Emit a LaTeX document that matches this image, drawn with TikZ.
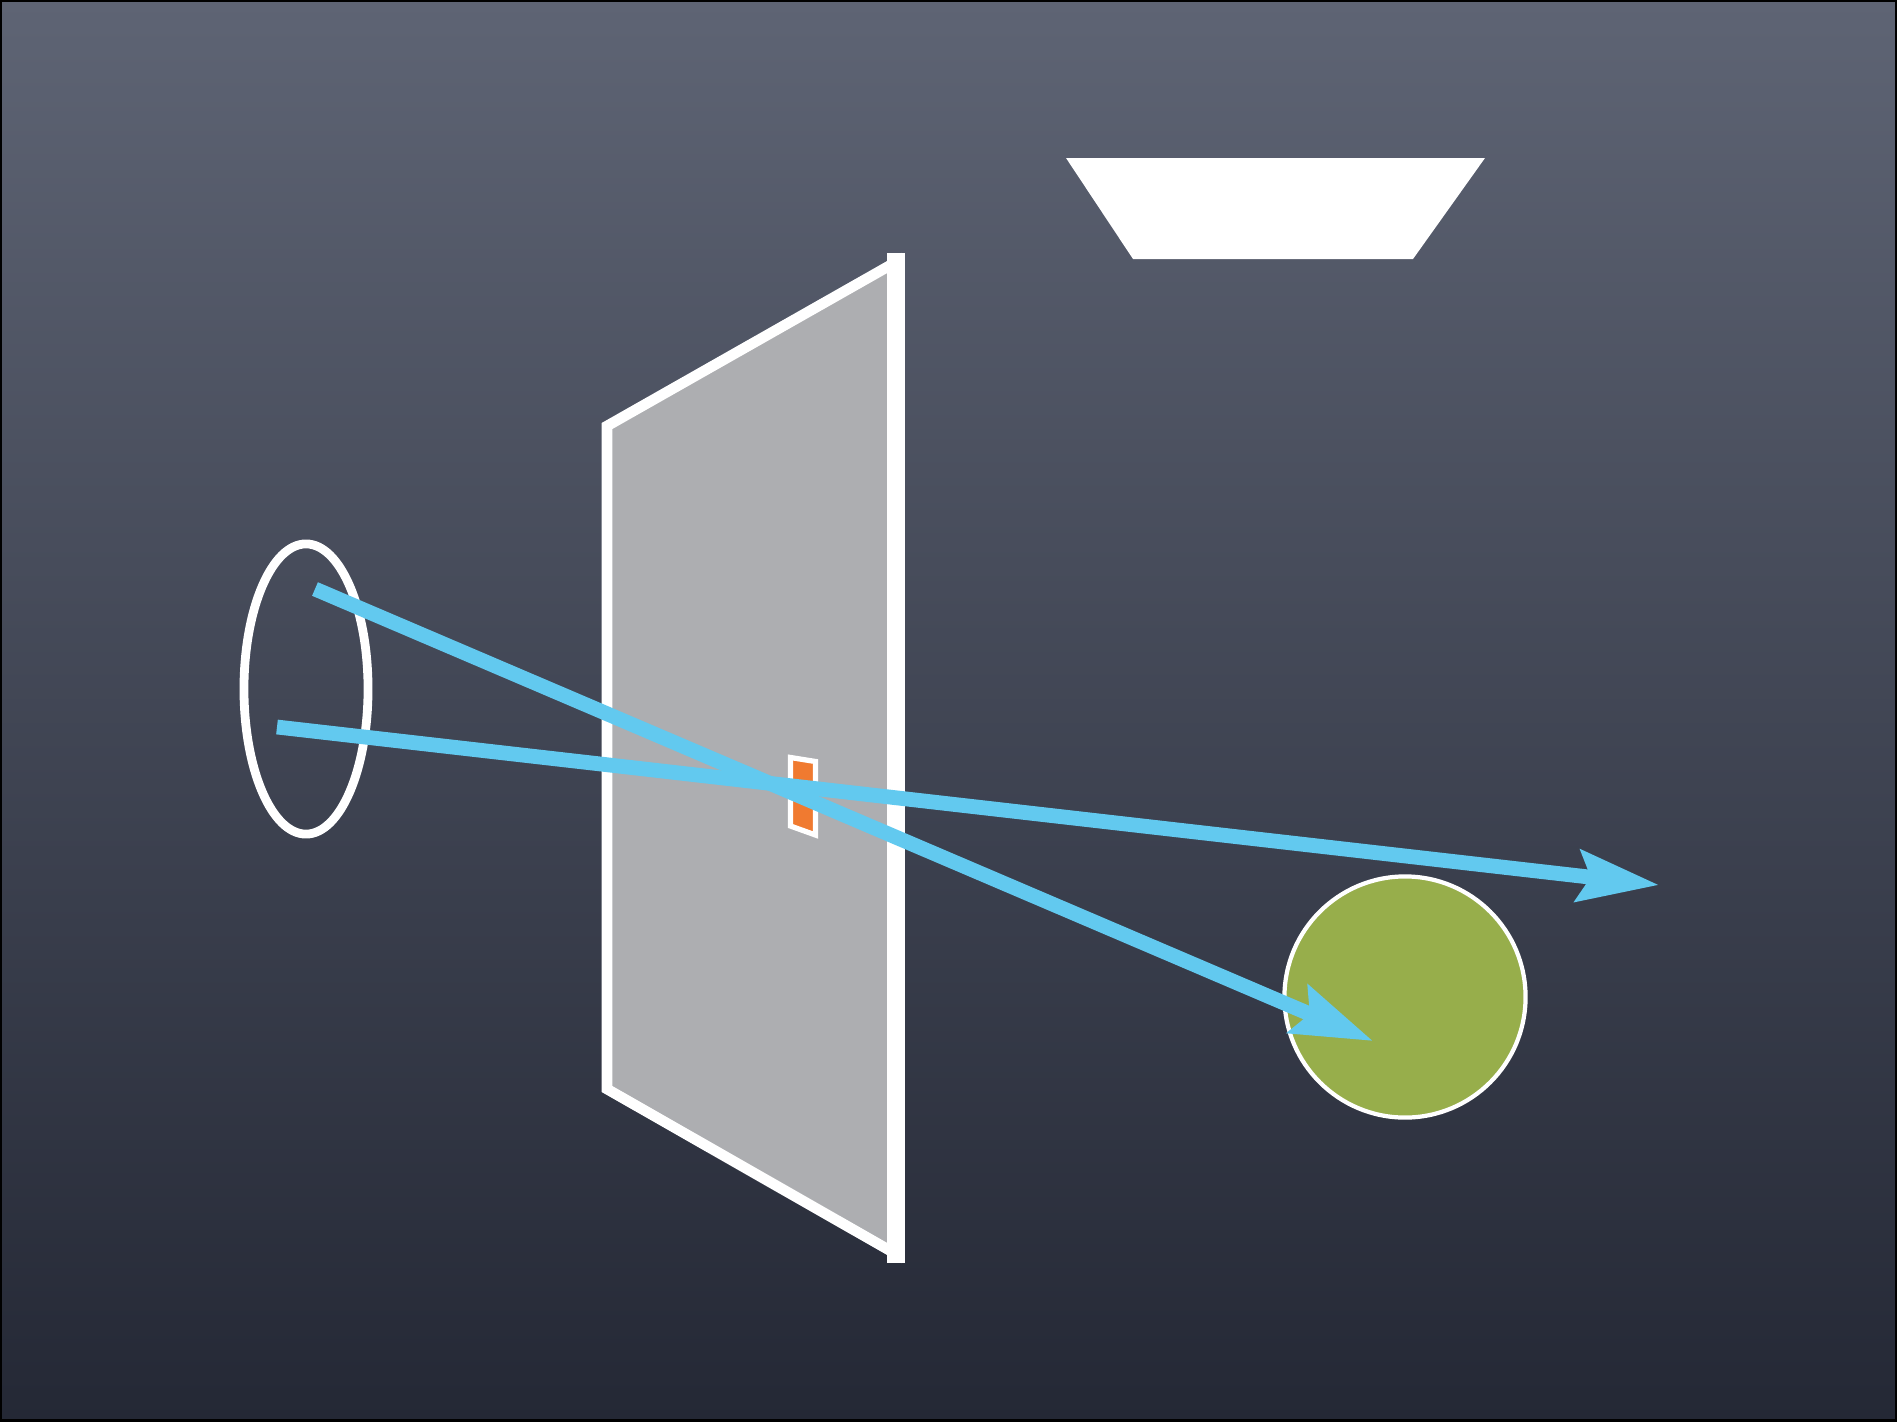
\documentclass[tikz,border=0pt]{standalone}
\usetikzlibrary{arrows.meta}
\definecolor{boardtop}{RGB}{94,100,116}
\definecolor{boardmid}{RGB}{72,78,93}
\definecolor{boardbot}{RGB}{36,40,53}
\definecolor{panelgray}{RGB}{173,174,177}
\definecolor{raycol}{RGB}{98,201,239}
\definecolor{leafgreen}{RGB}{151,174,75}
\definecolor{holeorange}{RGB}{240,122,48}

\begin{document}
\begin{tikzpicture}[x=0.01cm, y=-0.01cm,
    ray/.style={draw=raycol, line width=4.2pt, -{Stealth[length=23pt, width=14.5pt, inset=3.5pt]}},
    rim/.style={draw=white, line width=3pt}]
    \useasboundingbox (0,0) rectangle (1897,1421);
    \shade[top color=boardtop, middle color=boardmid, bottom color=boardbot] (0,0) rectangle (1897,1421);
    \draw[black, line width=1.2pt] (0,0) rectangle (1897,1421);
    % lamp
    \fill[white] (1066,158) -- (1485,158) -- (1413,259) -- (1133,259) -- cycle;
    % screen with hole
    \draw[rim, fill=panelgray] (607,426) -- (896,262) -- (896,1254) -- (607,1089) -- cycle;
    \draw[white, line width=5.1pt] (896,253) -- (896,1263);
    \draw[white, line width=1.5pt, fill=holeorange] (790.5,757.5) -- (815.5,761.5) -- (815.5,835) -- (790.5,826) -- cycle;
    % eye and ball
    \draw[white, line width=2.5pt] (306,689) ellipse [x radius=0.62cm, y radius=1.45cm];
    \draw[white, line width=1.2pt, fill=leafgreen] (1405,997) circle [radius=1.205cm];
    \coordinate (eyeA) at (315,589);
    \coordinate (eyeB) at (277,727);
    \coordinate (ball) at (1373,1041);
    \coordinate (far) at (1659,885);
    \draw[ray] (eyeA) -- (ball);
    \draw[ray] (eyeB) -- (far);
\end{tikzpicture}
\end{document}
